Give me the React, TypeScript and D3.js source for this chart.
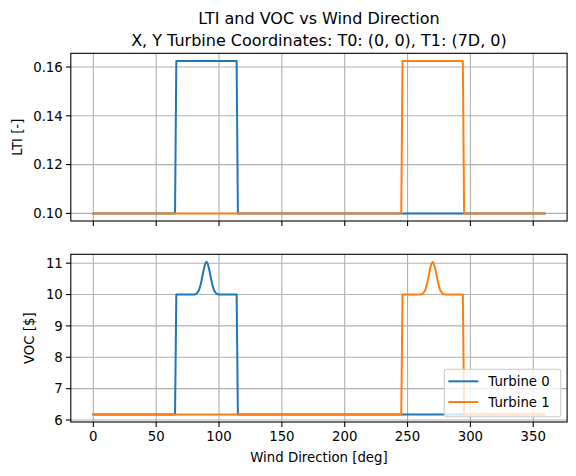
import { useMemo } from 'react';
import * as d3 from 'd3';

// wind direction / value breakpoints, sampled every degree (flat runs only keep their ends)
const lti0Dir = [0, 65, 66, 114, 115, 359];
const lti0Val = [0.1, 0.1, 0.1625, 0.1625, 0.1, 0.1];
const lti1Dir = [0, 245, 246, 294, 295, 359];
const lti1Val = [0.1, 0.1, 0.1625, 0.1625, 0.1, 0.1];

const voc0Dir = [0, 65, 66, 80, 81, 82, 83, 84, 85, 86, 87, 88, 89, 90, 91, 92, 93, 94, 95, 96, 97, 98, 99, 100, 114, 115, 359];
const voc0Val = [6.18, 6.18, 10.0, 10.0, 10.01, 10.03, 10.07, 10.14, 10.26, 10.43, 10.63, 10.83, 10.98, 11.04, 10.98, 10.83, 10.63, 10.43, 10.26, 10.14, 10.07, 10.03, 10.01, 10.0, 10.0, 6.18, 6.18];
const voc1Dir = [0, 245, 246, 260, 261, 262, 263, 264, 265, 266, 267, 268, 269, 270, 271, 272, 273, 274, 275, 276, 277, 278, 279, 280, 294, 295, 359];
const voc1Val = [6.18, 6.18, 10.0, 10.0, 10.01, 10.03, 10.07, 10.14, 10.26, 10.43, 10.63, 10.83, 10.98, 11.04, 10.98, 10.83, 10.63, 10.43, 10.26, 10.14, 10.07, 10.03, 10.01, 10.0, 10.0, 6.18, 6.18];

const seriesNames = ['Turbine 0', 'Turbine 1'];
const colors = ['#1f77b4', '#ff7f0e'];
const xTicks = [0, 50, 100, 150, 200, 250, 300, 350];
const ltiTicks = [0.10, 0.12, 0.14, 0.16];
const vocTicks = [6, 7, 8, 9, 10, 11];

const W = 576;
const H = 476;
const left = 70.8;
const right = 567.1;
const topPanel = { y0: 53.3, y1: 221 };
const botPanel = { y0: 254.3, y1: 422 };
const font = 'DejaVu Sans, sans-serif';

// matplotlib-style 5% autoscale margin
const pad = (lo: number, hi: number): [number, number] => {
  const m = (hi - lo) * 0.05;
  return [lo - m, hi + m];
};

type Pt = [number, number];
const zip = (a: number[], b: number[]): Pt[] => a.map((d, i) => [d, b[i]]);

const Panel = ({ id, panel, yDomain, yTicks, fmt, series, ylabel, ylabelX, showX }: {
  id: string;
  panel: { y0: number; y1: number };
  yDomain: [number, number];
  yTicks: number[];
  fmt: (v: number) => string;
  series: Pt[][];
  ylabel: string;
  ylabelX: number;
  showX: boolean;
}) => {
  const x = d3.scaleLinear().domain(pad(0, 359)).range([left, right]);
  const y = d3.scaleLinear().domain(yDomain).range([panel.y1, panel.y0]);
  const line = d3.line<Pt>().x(d => x(d[0])).y(d => y(d[1]));
  const cy = (panel.y0 + panel.y1) / 2;
  return (
    <g>
      <defs>
        <clipPath id={`clip-${id}`}>
          <rect x={left} y={panel.y0} width={right - left} height={panel.y1 - panel.y0} />
        </clipPath>
      </defs>
      {xTicks.map(t => (
        <line key={'gx' + t} x1={x(t)} x2={x(t)} y1={panel.y0} y2={panel.y1} stroke="#b0b0b0" strokeWidth={1.1} />
      ))}
      {yTicks.map(t => (
        <line key={'gy' + t} x1={left} x2={right} y1={y(t)} y2={y(t)} stroke="#b0b0b0" strokeWidth={1.1} />
      ))}
      <g clipPath={`url(#clip-${id})`}>
        {series.map((s, i) => (
          <path key={i} d={line(s) || ''} fill="none" stroke={colors[i]} strokeWidth={2} strokeLinejoin="round" strokeLinecap="square" />
        ))}
      </g>
      <rect x={left} y={panel.y0} width={right - left} height={panel.y1 - panel.y0} fill="none" stroke="#000" strokeWidth={1.1} />
      {xTicks.map(t => (
        <g key={'tx' + t}>
          <line x1={x(t)} x2={x(t)} y1={panel.y1} y2={panel.y1 + 4.9} stroke="#000" strokeWidth={1.1} />
          {showX && (
            <text x={x(t)} y={panel.y1 + 18.5} textAnchor="middle" fontSize={13.3} fontFamily={font} fill="#000">{t}</text>
          )}
        </g>
      ))}
      {yTicks.map(t => (
        <g key={'ty' + t}>
          <line x1={left - 4.9} x2={left} y1={y(t)} y2={y(t)} stroke="#000" strokeWidth={1.1} />
          <text x={left - 8} y={y(t)} dy="0.36em" textAnchor="end" fontSize={13.3} fontFamily={font} fill="#000">{fmt(t)}</text>
        </g>
      ))}
      <text transform={`translate(${ylabelX},${cy}) rotate(-90)`} textAnchor="middle" dy="0.36em" fontSize={13.3} fontFamily={font} fill="#000">{ylabel}</text>
    </g>
  );
};

export default function App() {
  const lti = useMemo(() => [zip(lti0Dir, lti0Val), zip(lti1Dir, lti1Val)], []);
  const voc = useMemo(() => [zip(voc0Dir, voc0Val), zip(voc1Dir, voc1Val)], []);
  const ltiAll = [...lti0Val, ...lti1Val];
  const vocAll = [...voc0Val, ...voc1Val];
  const ltiDom = pad(d3.min(ltiAll)!, d3.max(ltiAll)!);
  const vocDom = pad(d3.min(vocAll)!, d3.max(vocAll)!);

  const lg = { x: 444.3, y: 369.3, w: 116.4, h: 47.4 };

  return (
    <svg width={W} height={H} style={{ position: 'absolute', left: 0, top: 0 }}>
      <rect width={W} height={H} fill="#fff" />
      <text x={(left + right) / 2} y={24} textAnchor="middle" fontSize={16} fontFamily={font} fill="#000">LTI and VOC vs Wind Direction</text>
      <text x={(left + right) / 2} y={46} textAnchor="middle" fontSize={16} fontFamily={font} fill="#000">X, Y Turbine Coordinates: T0: (0, 0), T1: (7D, 0)</text>

      <Panel id="lti" panel={topPanel} yDomain={ltiDom} yTicks={ltiTicks} fmt={d3.format('.2f')} series={lti} ylabel="LTI [-]" ylabelX={17} showX={false} />
      <Panel id="voc" panel={botPanel} yDomain={vocDom} yTicks={vocTicks} fmt={d3.format('d')} series={voc} ylabel="VOC [$]" ylabelX={29.5} showX={true} />

      <text x={(left + right) / 2} y={462} textAnchor="middle" fontSize={13.3} fontFamily={font} fill="#000">Wind Direction [deg]</text>

      <g>
        <rect x={lg.x} y={lg.y} width={lg.w} height={lg.h} rx={2.5} fill="#fff" fillOpacity={0.8} stroke="#cccccc" strokeWidth={1.1} />
        {seriesNames.map((n, i) => (
          <g key={n}>
            <line x1={448.3} x2={478.3} y1={381.3 + i * 20.7} y2={381.3 + i * 20.7} stroke={colors[i]} strokeWidth={2} />
            <text x={488.3} y={381.3 + i * 20.7} dy="0.36em" fontSize={13.3} fontFamily={font} fill="#000">{n}</text>
          </g>
        ))}
      </g>
    </svg>
  );
}
